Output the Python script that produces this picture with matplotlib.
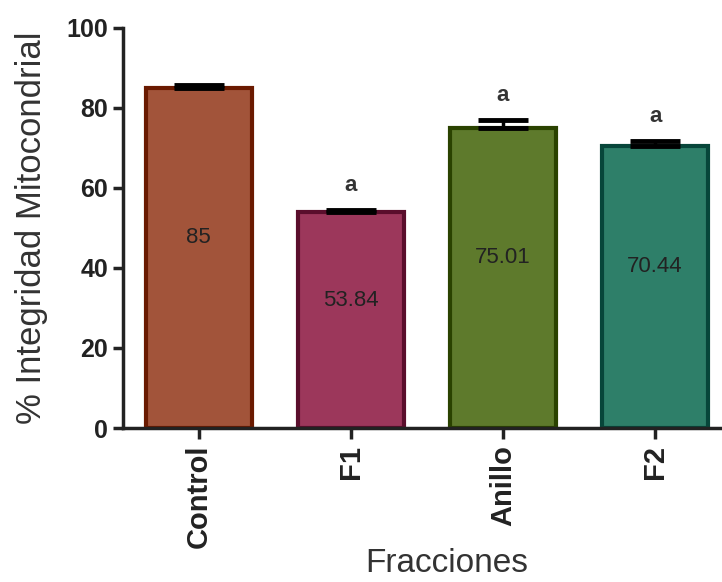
import matplotlib
matplotlib.use("Agg")
import matplotlib.pyplot as plt

categories = ["Control", "F1", "Anillo", "F2"]
values = [85, 53.84, 75.01, 70.44]
errors = [0.7, 0.5, 1.8, 1.3]
letters = ["", "a", "a", "a"]
fill_colors = ["#A2543A", "#9C375B", "#5E7A2C", "#2E7F69"]
edge_colors = ["#6A1A00", "#5A0E2C", "#2A4200", "#07463A"]

plt.rcParams['font.family'] = ['Liberation Sans', 'DejaVu Sans']

fig = plt.figure(figsize=(7.22, 5.82), dpi=100)
ax = fig.add_axes([0.170, 0.2646, 0.83, 0.688])

x = range(len(categories))
ax.bar(x, values, width=0.7, color=fill_colors, edgecolor=edge_colors, linewidth=3, zorder=2)
ax.errorbar(x, values, yerr=[[0] * len(errors), errors], fmt='none', ecolor='black',
            elinewidth=2.5, capsize=18, capthick=3.5, zorder=3)

for i, v in enumerate(values):
    # value label a bit above the middle of the bar
    ax.text(i, v / 2 + 5, f"{v:g}", ha='center', va='center', fontsize=16, color='#222222')
    if letters[i]:
        ax.text(i, v + errors[i] + 3.5, letters[i], ha='center', va='bottom',
                fontsize=16, fontweight='bold', color='#333333')

ax.set_xlim(-0.5, 3.44)
ax.set_ylim(0, 100)
ax.set_yticks([0, 20, 40, 60, 80, 100])
ax.set_xticks(list(x))
ax.set_xticklabels(categories, rotation=90, fontsize=21, fontweight='bold', color='#222222')
for lab in ax.get_yticklabels():
    lab.set_fontsize(18)
    lab.set_fontweight('bold')
    lab.set_color('#222222')

ax.spines['top'].set_visible(False)
ax.spines['right'].set_visible(False)
ax.spines['left'].set_linewidth(2.5)
ax.spines['bottom'].set_linewidth(2.5)
ax.spines['left'].set_color('#222222')
ax.spines['bottom'].set_color('#222222')
ax.tick_params(axis='both', direction='out', width=2.5, length=7, color='#222222')
ax.tick_params(axis='x', length=8, pad=4)

ax.set_ylabel("% Integridad Mitocondrial", fontsize=25, labelpad=13, color='#333333')
ax.set_xlabel("Fracciones", fontsize=24, labelpad=0, color='#333333')
ax.xaxis.label.set_x(0.541)

fig.savefig("out.png", dpi=100)
